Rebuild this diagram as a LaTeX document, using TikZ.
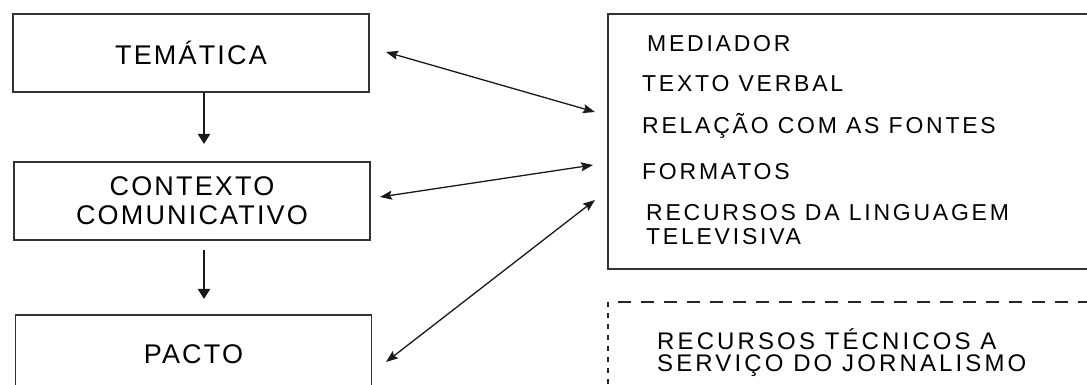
\documentclass[tikz,border=0pt]{standalone}
\usepackage{fontspec}
\setmainfont{Liberation Sans}
\usetikzlibrary{arrows.meta,calc}
\newcommand{\bigtxt}{\fontsize{27}{29}\selectfont\addfontfeature{LetterSpace=8}}
\newcommand{\midtxt}{\fontsize{23}{24}\selectfont\addfontfeature{LetterSpace=12}}
\newcommand{\dashtxt}{\fontsize{24}{22}\selectfont\addfontfeature{LetterSpace=13}}
\begin{document}
\begin{tikzpicture}[x=1pt,y=1pt,
  box/.style={draw=black!80, line width=1.6pt, minimum width=356pt, minimum height=78pt, inner sep=0pt, align=center, font=\bigtxt},
  bigbox/.style={draw=black!80, line width=1.6pt, minimum width=502pt, minimum height=255pt, inner sep=0pt},
  item/.style={anchor=west, inner sep=0pt, text height=16.5pt, text depth=0pt, font=\midtxt, align=left},
  item2/.style={anchor=north west, inner sep=0pt, font=\midtxt, align=left},
  varrow/.style={line width=2pt, black!90, -{Triangle[length=10pt,width=12pt]}},
  darrow/.style={line width=1.3pt, black!90, {Stealth[length=12pt,width=9pt,inset=2pt]}-{Stealth[length=12pt,width=9pt,inset=2pt]}},
  dashedge/.style={line width=1.5pt, black!85, dash pattern=on 13pt off 10pt, dash phase=13pt}
]
\useasboundingbox (0,0) rectangle (1087,385);
% left boxes
\node[box] (tem) at (191,332) {TEMÁTICA};
\node[box] (ctx) at (192,184) {CONTEXTO\\COMUNICATIVO};
\node[box] (pac) at (193.5,31) {PACTO};
% right box
\node[bigbox] (rb) at (859,243.5) {};
\node[item] (med) at (647,342) {MEDIADOR};
\node[item] (tv) at (642,302) {TEXTO VERBAL};
\node[item] (rel) at (642,259.5) {RELAÇÃO COM AS FONTES};
\node[item] (fmt) at (642,214) {FORMATOS};
\node[item2] (rec) at (646,181) {RECURSOS DA LINGUAGEM\\TELEVISIVA};
% dashed box
\node[minimum width=502pt, minimum height=120pt, inner sep=0pt] (db) at (859,23) {};
\draw[dashedge] (db.north west) -- (db.north east);
\draw[line width=1.5pt, black!85, dash pattern=on 5pt off 6pt] (db.north west) -- (db.south west);
\node[anchor=north west, inner sep=0pt, align=left, font=\dashtxt] (rt) at (657,57) {RECURSOS TÉCNICOS A\\SERVIÇO DO JORNALISMO};
% vertical arrows
\coordinate (v1s) at ($(tem.south)+(13,0)$);
\coordinate (v1e) at (204,241);
\coordinate (v2s) at (204,135);
\coordinate (v2e) at (204,86);
\draw[varrow] (v1s) -- (v1e);
\draw[varrow] (v2s) -- (v2e);
% double arrows
\coordinate (a1s) at (386,333);
\coordinate (a1e) at (595,273);
\coordinate (a2s) at (380,188);
\coordinate (a2e) at (593,220);
\coordinate (a3s) at (386,23);
\coordinate (a3e) at (595,185);
\draw[darrow] (a1s) -- (a1e);
\draw[darrow] (a2s) -- (a2e);
\draw[darrow] (a3s) -- (a3e);
\end{tikzpicture}
\end{document}
